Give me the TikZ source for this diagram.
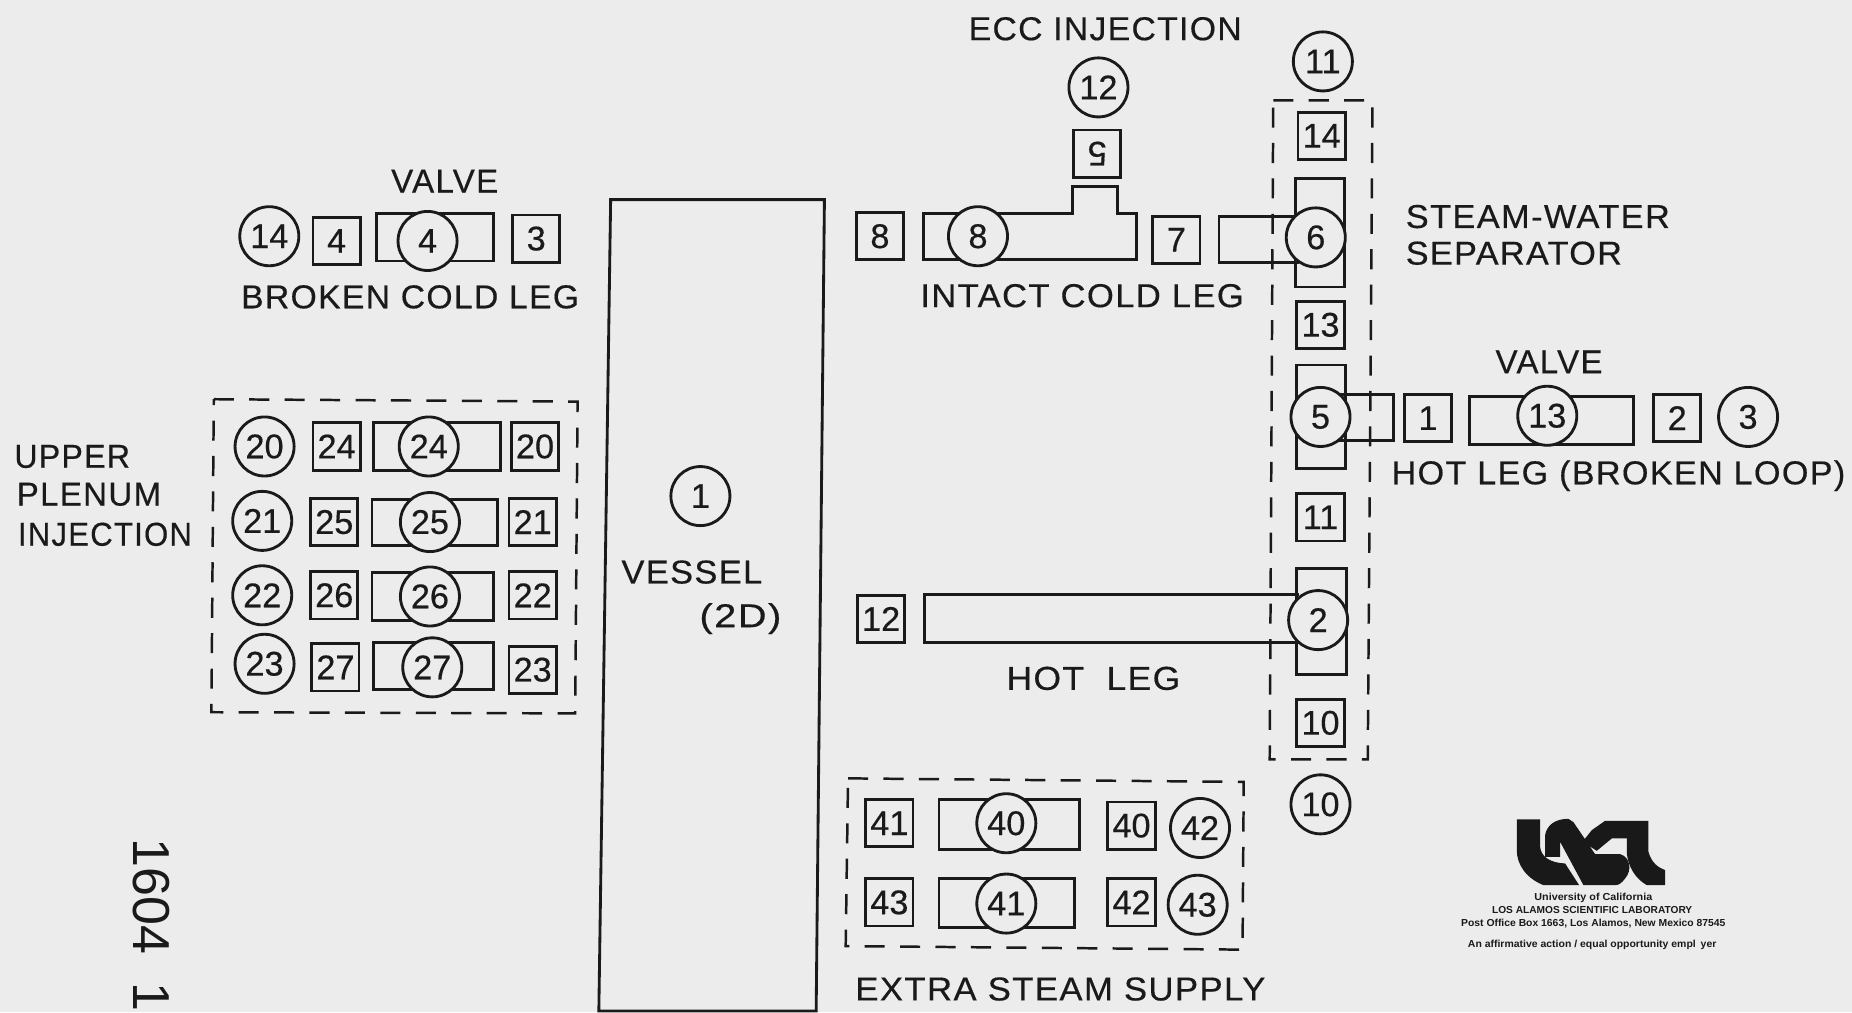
\documentclass[tikz,border=0pt]{standalone}
\usepackage{fontspec}
\setmainfont{Liberation Sans}
\newfontfamily\lblfont[LetterSpace=4,FakeBold=0.4]{Liberation Sans}
\newfontfamily\numfont[FakeBold=0.4]{Liberation Sans}
\definecolor{paper}{HTML}{ECECEC}
\definecolor{ink}{HTML}{1A1A1A}
\newcommand{\Cn}[4]{\node[cnode] (#1) at (#2,#3) {#4};}
\newcommand{\Sq}[4]{\node[snode] (#1) at (#2,#3) {#4};}
\newcommand{\Pipe}[4]{\draw[pipe] (#1,#2) rectangle (#3,#4);}
\newcommand{\Tw}[2]{\scalebox{#1}[1]{#2}}
\begin{document}
\begin{tikzpicture}[x=1pt,y=-1pt,
  cnode/.style={circle,draw=ink,fill=paper,line width=2.4pt,minimum size=50pt,inner sep=0pt,outer sep=0pt,text=ink,font=\numfont\fontsize{29}{29}\selectfont},
  snode/.style={rectangle,draw=ink,fill=paper,line width=2.4pt,minimum size=40pt,inner sep=0pt,outer sep=0pt,text=ink,font=\numfont\fontsize{29}{29}\selectfont},
  pipe/.style={draw=ink,line width=2.4pt,line join=miter},
  dashbox/.style={draw=ink,line width=2.1pt,dash pattern=on 17pt off 13pt},
  lbl/.style={anchor=base west,inner sep=0pt,text=ink,font=\lblfont\fontsize{28}{28}\selectfont},
  fine/.style={anchor=base,inner sep=0pt,text=ink,font=\bfseries\fontsize{8.6}{8.6}\selectfont}]
\useasboundingbox (0,0) rectangle (1568,857);
\fill[paper] (0,0) rectangle (1568,857);

% vessel
\draw[pipe] (517,169) -- (698,169) -- (691,856) -- (507,856) -- cycle;
\Cn{c1}{593}{420}{1}
\node[lbl] (tvessel) at (526,494) {\Tw{1.04}{VESSEL}};
\node[lbl] (t2d) at (592,531) {\Tw{1.2}{(2D)}};

% broken cold leg
\Pipe{319}{181}{418}{221}
\Cn{c14a}{228}{200}{14}
\Sq{s4}{285}{204}{4}
\Cn{c4}{362}{204}{4}
\Sq{s3}{454}{202}{3}
\node[lbl] (tvalvea) at (331,163) {VALVE};
\node[lbl] (tbcl) at (204,261) {\Tw{1.018}{BROKEN COLD LEG}};

% upper plenum injection
\draw[dashbox] (181,338) -- (489,340) -- (487,604) -- (179,603) -- cycle;
\node[lbl] (tup1) at (12,396) {\Tw{0.97}{UPPER}};
\node[lbl] (tup2) at (14,428) {PLENUM};
\node[lbl] (tup3) at (15,462) {\Tw{0.94}{INJECTION}};
\Pipe{316}{358}{424}{398}
\Pipe{315}{423}{421}{462}
\Pipe{315}{485}{418}{525}
\Pipe{316}{544}{418}{584}
\Cn{c20}{224}{378}{20}
\Sq{s24}{285}{378}{24}
\Cn{c24}{363}{378}{24}
\Sq{s20}{453}{378}{20}
\Cn{c21}{222}{441}{21}
\Sq{s25}{283}{442}{25}
\Cn{c25}{364}{442}{25}
\Sq{s21}{451}{442}{21}
\Cn{c22}{222}{504}{22}
\Sq{s26}{283}{504}{26}
\Cn{c26}{364}{505}{26}
\Sq{s22}{451}{504}{22}
\Cn{c23}{224}{562}{23}
\Sq{s27}{284}{565}{27}
\Cn{c27}{366}{565}{27}
\Sq{s23}{451}{567}{23}

% intact cold leg
\draw[pipe] (782,181) -- (908,181) -- (908,158) -- (946,158) -- (946,181) -- (962,181) -- (962,220) -- (782,220) -- cycle;
\Sq{s8}{745}{200}{8}
\Cn{c8}{828}{200}{8}
\node[snode,rotate=180] (s5) at (929,130) {5};
\Cn{c12}{930}{74}{12}
\Sq{s7}{996}{203}{7}
\node[lbl] (tecc) at (820,34) {\Tw{1.018}{ECC INJECTION}};
\node[lbl] (ticl) at (779,260) {\Tw{1.046}{INTACT COLD LEG}};

% separator
\draw[dashbox] (1078,85) -- (1162,85) -- (1158,643) -- (1075,643) -- cycle;
\Pipe{1097}{151}{1138}{243}
\draw[pipe] (1100,183) -- (1032,183) -- (1032,222) -- (1100,222);
\Pipe{1098}{309}{1139}{397}
\draw[pipe] (1130,334) -- (1180,334) -- (1180,373) -- (1130,373);
\Pipe{1098}{481}{1140}{571}
\draw[pipe] (1100,503) -- (783,503) -- (783,544) -- (1100,544);
\Cn{c11a}{1120}{52}{11}
\Sq{s14}{1119}{115}{14}
\Cn{c6}{1114}{201}{6}
\Sq{s13}{1118}{275}{13}
\Cn{c5}{1118}{353}{5}
\Sq{s11}{1118}{438}{11}
\Cn{c2}{1116}{525}{2}
\Sq{s10}{1118}{612}{10}
\Cn{c10}{1118}{681}{10}
\Sq{s12}{746}{524}{12}
\node[lbl] (thot) at (852,584) {\Tw{1.07}{HOT \ LEG}};
\node[lbl] (tsw1) at (1190,193) {\Tw{1.04}{STEAM-WATER}};
\node[lbl] (tsw2) at (1190,224) {\Tw{1.034}{SEPARATOR}};

% hot leg broken loop
\Pipe{1244}{336}{1383}{376}
\Sq{s1}{1209}{354}{1}
\Cn{c13}{1310}{352}{13}
\Sq{s2}{1420}{354}{2}
\Cn{c3}{1480}{353}{3}
\node[lbl] (tvalveb) at (1266,316) {VALVE};
\node[lbl] (thbl) at (1178,410) {\Tw{1.032}{HOT LEG (BROKEN LOOP)}};

% extra steam supply
\draw[dashbox] (718,659) -- (1053,662) -- (1052,804) -- (716,801) -- cycle;
\Pipe{795}{677}{914}{719}
\Pipe{795}{744}{910}{785}
\Sq{s41}{753}{697}{41}
\Cn{c40}{852}{697}{40}
\Sq{s40}{958}{699}{40}
\Cn{c42}{1016}{701}{42}
\Sq{s43}{753}{764}{43}
\Cn{c41}{852}{765}{41}
\Sq{s42}{958}{764}{42}
\Cn{c43}{1014}{766}{43}
\node[lbl] (tess) at (724,847) {\Tw{1.05}{EXTRA STEAM SUPPLY}};

% margin number
\node[rotate=-90,anchor=base west,inner sep=0pt,text=ink,font=\fontsize{44}{44}\selectfont] (tnum) at (113,710) {1604\hspace{24pt}1};

% logo
\begin{scope}[shift={(1274.3,685.9)},x=0.2822pt,y=-0.2822pt]
  \fill[black!90] (35,28) -- (105,28) -- (105,110) .. controls (108,140) and (135,158) .. (180,160) -- (222,225) -- (115,225) .. controls (65,205) and (35,165) .. (35,120) -- cycle;
  \fill[black!90] (120,140) -- (120,75) .. controls (125,45) and (150,26) .. (190,26) -- (205,36) -- (270,132) -- (345,132) .. controls (375,140) and (382,180) .. (360,205) .. controls (350,218) and (342,225) .. (330,225) -- (235,225) -- (165,95) -- (165,140) -- cycle;
  \fill[black!90] (232,95) -- (260,60) -- (300,32) -- (430,32) -- (430,125) .. controls (440,160) and (460,172) .. (480,180) -- (480,225) -- (425,225) .. controls (390,205) and (370,170) .. (365,130) -- (365,85) -- (320,85) -- (275,122) -- cycle;
\end{scope}
\node[fine] (tl1) at (1349,762) {\Tw{1.06}{University of California}};
\node[fine] (tl2) at (1348,773) {LOS ALAMOS SCIENTIFIC LABORATORY};
\node[fine] (tl3) at (1349,784) {\Tw{1.02}{Post Office Box 1663, Los Alamos, New Mexico 87545}};
\node[fine] (tl4) at (1348,802) {\Tw{1.03}{An affirmative action / equal opportunity empl\hspace{4pt}yer}};
\end{tikzpicture}
\end{document}
